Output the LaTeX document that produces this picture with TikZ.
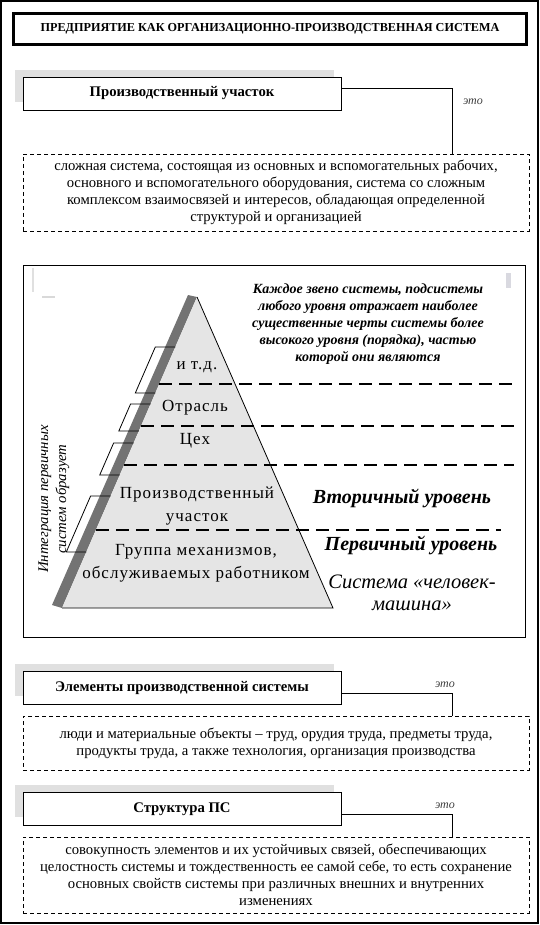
\documentclass[tikz,border=0pt]{standalone}
\usepackage{fontspec}
\setmainfont{Liberation Serif}
\newfontfamily\levelfont[LetterSpace=6]{Liberation Serif}
\usepackage{tikz}
\usetikzlibrary{calc, positioning}

\tikzset{
    shadowbox/.style={fill=black!12, draw=none},
    headbox/.style={draw, fill=white, line width=0.8pt, minimum width=318pt,
        minimum height=33pt, inner sep=0pt, font=\bfseries\fontsize{14.7}{16}\selectfont},
    defbox/.style={draw, dash pattern=on 4pt off 3pt, line width=0.7pt,
        minimum width=506pt, inner sep=0pt, align=center,
        font=\fontsize{14.7}{17}\selectfont},
    eto/.style={font=\itshape\fontsize{12}{14}\selectfont, text=black!75},
    level/.style={font=\levelfont\fontsize{17}{23}\selectfont, align=center},
    levdash/.style={line width=1.8pt, dash pattern=on 13pt off 7pt},
    note/.style={font=\bfseries\itshape\fontsize{14}{17}\selectfont, align=center},
    urov/.style={font=\bfseries\itshape\fontsize{20}{22}\selectfont},
}

\begin{document}
\begin{tikzpicture}[x=1pt, y=-1pt, line width=0.8pt]
    \useasboundingbox (0,0) rectangle (540,925);
    % 1. Рамка и заголовок
    \draw[line width=1.2pt] (1,1) rectangle (538,923);
    \node[draw, line width=3pt, minimum width=513pt, minimum height=31pt,
        font=\bfseries\fontsize{12.2}{14}\selectfont] (title) at (270,29)
        {ПРЕДПРИЯТИЕ КАК ОРГАНИЗАЦИОННО-ПРОИЗВОДСТВЕННАЯ СИСТЕМА};

    % 2. Производственный участок
    \fill[shadowbox] (15,70) rectangle (334,102);
    \node[headbox] (uch) at (182,93.5) {Производственный участок};
    \node[defbox, minimum height=77pt] (uchdef) at (276,192.5)
        {сложная система, состоящая из основных и вспомогательных рабочих,\\
         основного и вспомогательного оборудования, система со сложным\\
         комплексом взаимосвязей и интересов, обладающая определенной\\
         структурой и организацией};
    \coordinate (k1) at (452,88);
    \draw (uch.east |- k1) -- (k1) -- (k1 |- uchdef.north);
    \node[eto] (eto1) at (473,102) {это};

    % 3. Пирамида
    \draw (23,265) rectangle (525,637);
    \draw[black!12, line width=2pt] (33,268) -- (33,292);
    \draw[black!15, line width=1.5pt] (42,297) -- (55,297);
    \fill[blue!20!black!15] (506,273) rectangle (511,288);
    \node[note] (zveno) at (368,324)
        {Каждое звено системы, подсистемы\\
         любого уровня отражает наиболее\\
         существенные черты системы более\\
         высокого уровня (порядка), частью\\
         которой они являются};
    \coordinate (top) at (197,297);
    \coordinate (bl) at (62,608);
    \coordinate (br) at (333,608);
    \fill[black!55] (188,295) -- (top) -- (bl) -- (52,605) -- cycle;
    \fill[black!10] (top) -- (bl) -- (br) -- cycle;
    \draw (bl) -- (br) -- (top);
    \foreach \y/\xe in {384/514, 426/516, 465/514, 530/501} {
        \draw[levdash] ({197-(\y-297)*0.4341},\y) -- (\xe,\y);
    }
    \foreach \ya/\yb in {347/393, 404/431, 443/475, 496/552} {
        \draw ({197-(\ya-297)*0.4341},\ya) -- ++(-20,0)
            -- ({177-(\yb-297)*0.4341},\yb) -- ++(20,0);
    }
    \node[level] (itd) at (197,367) {и т.д.};
    \node[level] (otr) at (195,408) {Отрасль};
    \node[level] (ceh) at (195,441) {Цех};
    \node[level] (puch) at (197,506) {Производственный\\ участок};
    \node[level] (grp) at (196,563.5) {Группа механизмов,\\ обслуживаемых работником};
    \node[urov] (vtor) at (402,498) {Вторичный уровень};
    \node[urov] (perv) at (411,545) {Первичный уровень};
    \node[font=\itshape\fontsize{20.5}{22}\selectfont, align=center] (chm) at (412,593)
        {Система «человек-\\ машина»};
    \node[rotate=90, align=center, font=\itshape\fontsize{14.8}{18}\selectfont] (integr) at (54,499)
        {Интеграция первичных\\ систем образует};

    % 4. Элементы производственной системы
    \fill[shadowbox] (15,664) rectangle (334,696);
    \node[headbox] (elem) at (182,688) {Элементы производственной системы};
    \node[defbox, minimum height=54pt] (elemdef) at (276,743)
        {люди и материальные объекты – труд, орудия труда, предметы труда,\\
         продукты труда, а также технология, организация производства};
    \coordinate (k2) at (452,693);
    \draw (elem.east |- k2) -- (k2) -- (k2 |- elemdef.north);
    \node[eto] (eto2) at (445,685) {это};

    % 5. Структура ПС
    \fill[shadowbox] (15,785) rectangle (334,817);
    \node[headbox] (str) at (182,809) {Структура ПС};
    \node[defbox, minimum height=76pt] (strdef) at (276,875)
        {совокупность элементов и их устойчивых связей, обеспечивающих\\
         целостность системы и тождественность ее самой себе, то есть сохранение\\
         основных свойств системы при различных внешних и внутренних\\
         изменениях};
    \coordinate (k3) at (452,814);
    \draw (str.east |- k3) -- (k3) -- (k3 |- strdef.north);
    \node[eto] (eto3) at (445,806) {это};
\end{tikzpicture}
\end{document}
